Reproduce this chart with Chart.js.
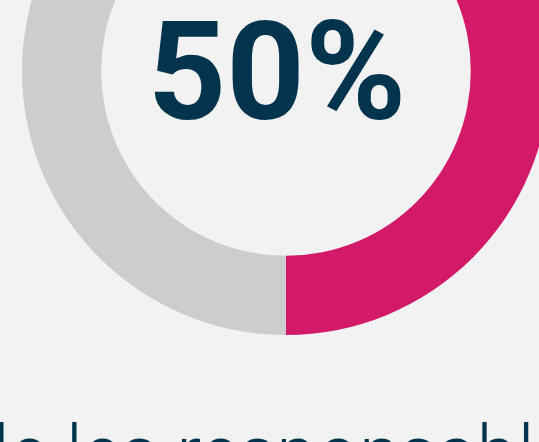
<!DOCTYPE html>
<html>
<head>
<meta charset="utf-8">
<script src="https://cdn.jsdelivr.net/npm/chart.js@4/dist/chart.umd.min.js"></script>
<style>
  html, body { margin: 0; padding: 0; background: #f2f2f2; }
  body { width: 539px; height: 442px; position: relative; overflow: hidden; }
  #donut { position: absolute; left: 22px; top: -193px; }
  #caption {
    position: absolute; left: -7px; top: 416px;
    font-family: Roboto, sans-serif; font-weight: 300; font-size: 74px;
    color: #02344d; white-space: nowrap; line-height: 1;
  }
</style>
</head>
<body>
<canvas id="donut" width="528" height="528"></canvas>
<div id="caption">le les responsables</div>
<script>
const labels = ['Oui', 'Non'];
const values = [50, 50];
const colors = ['#d21a68', '#cdcdcd'];
const centerLabel = '50%';

const centerText = {
  id: 'centerText',
  afterDraw(chart) {
    const ctx = chart.ctx;
    const meta = chart.getDatasetMeta(0).data[0];
    ctx.save();
    ctx.font = 'bold 137px Roboto, sans-serif';
    ctx.fillStyle = '#02344d';
    ctx.textAlign = 'center';
    ctx.textBaseline = 'alphabetic';
    ctx.fillText(centerLabel, meta.x - 9, meta.y + 48);
    ctx.restore();
  }
};

const ctx = document.getElementById('donut').getContext('2d');
const myChart = new Chart(ctx, {
  type: 'doughnut',
  data: {
    labels: labels,
    datasets: [{
      data: values,
      backgroundColor: colors,
      borderWidth: 0
    }]
  },
  options: {
    responsive: false,
    animation: false,
    cutout: '70%',
    layout: { padding: 0 },
    plugins: {
      legend: { display: false },
      tooltip: { enabled: false }
    }
  },
  plugins: [centerText]
});
</script>
</body>
</html>
